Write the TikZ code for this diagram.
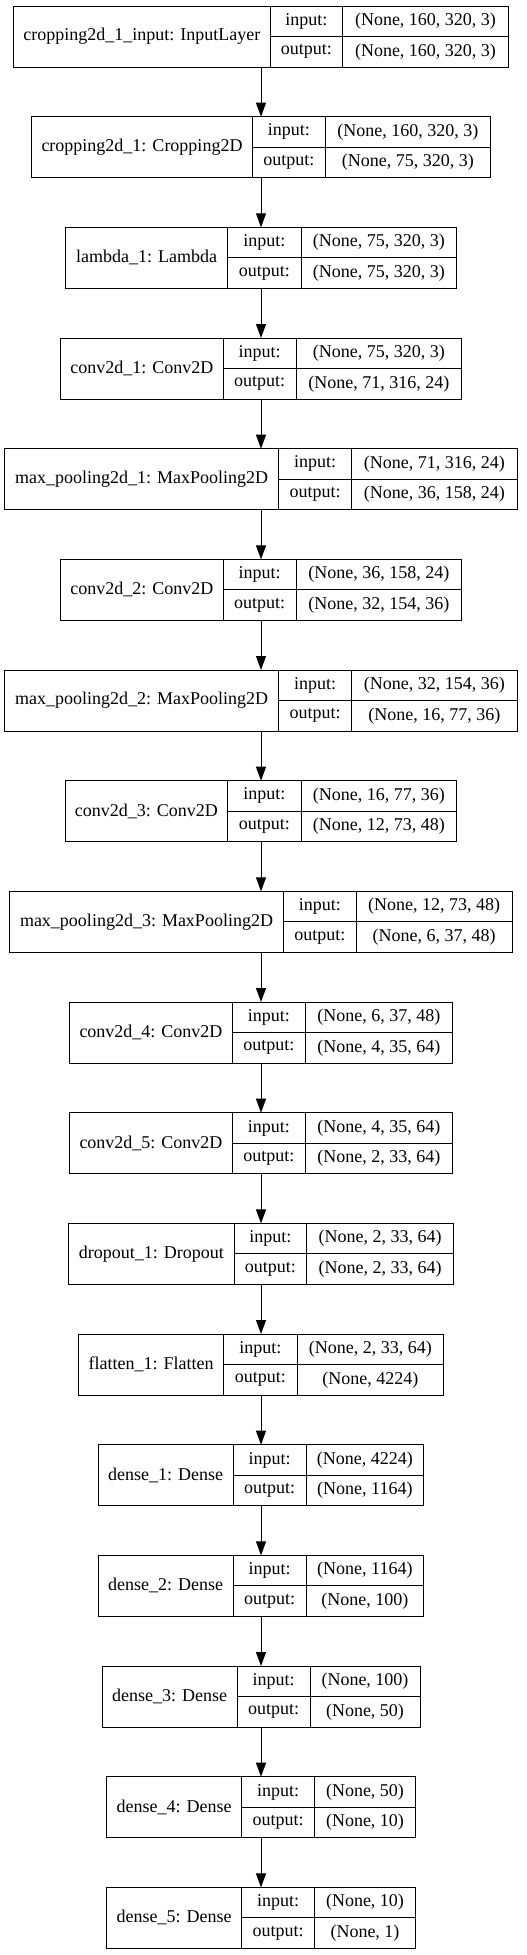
\documentclass[tikz,border=0pt]{standalone}
\usepackage{fontspec}
\setmainfont{Liberation Serif}
\usetikzlibrary{arrows.meta}
\tikzset{
  cell/.style={draw, line width=1pt, inner sep=0pt, outer sep=0pt, anchor=north west,
    font=\fontsize{18}{21}\selectfont},
  layerbox/.style={inner sep=0pt, outer sep=0pt, minimum height=61},
  flow/.style={line width=1pt, -{Triangle[length=14pt,width=10pt]}}
}

\begin{document}
\begin{tikzpicture}[x=1pt,y=1pt]
\useasboundingbox (0,0) rectangle (527,-1955);
% one row per layer: index / left / label column / shape column / right / name / input / output
\foreach \i/\L/\a/\b/\R/\nm/\si/\so in {
  0/13.7/270/342.7/508.3/{cropping2d\_1\_input: InputLayer}/{(None, 160, 320, 3)}/{(None, 160, 320, 3)},
  1/31.3/252.7/325/490.7/{cropping2d\_1: Cropping2D}/{(None, 160, 320, 3)}/{(None, 75, 320, 3)},
  2/65.3/227.7/301/456.7/{lambda\_1: Lambda}/{(None, 75, 320, 3)}/{(None, 75, 320, 3)},
  3/60.7/223/296/461.7/{conv2d\_1: Conv2D}/{(None, 75, 320, 3)}/{(None, 71, 316, 24)},
  4/4.7/278.7/351.7/517/{max\_pooling2d\_1: MaxPooling2D}/{(None, 71, 316, 24)}/{(None, 36, 158, 24)},
  5/60.7/223/296/461.7/{conv2d\_2: Conv2D}/{(None, 36, 158, 24)}/{(None, 32, 154, 36)},
  6/4.7/278.7/351.7/517/{max\_pooling2d\_2: MaxPooling2D}/{(None, 32, 154, 36)}/{(None, 16, 77, 36)},
  7/65/227.7/301/456.7/{conv2d\_3: Conv2D}/{(None, 16, 77, 36)}/{(None, 12, 73, 48)},
  8/9.7/283.3/356.3/512/{max\_pooling2d\_3: MaxPooling2D}/{(None, 12, 73, 48)}/{(None, 6, 37, 48)},
  9/69.7/232.3/305.3/452.3/{conv2d\_4: Conv2D}/{(None, 6, 37, 48)}/{(None, 4, 35, 64)},
  10/69.7/232.3/305.3/452.3/{conv2d\_5: Conv2D}/{(None, 4, 35, 64)}/{(None, 2, 33, 64)},
  11/68.7/234/306.7/453.7/{dropout\_1: Dropout}/{(None, 2, 33, 64)}/{(None, 2, 33, 64)},
  12/78.3/223.7/297/443.7/{flatten\_1: Flatten}/{(None, 2, 33, 64)}/{(None, 4224)},
  13/98.3/233/306/423.7/{dense\_1: Dense}/{(None, 4224)}/{(None, 1164)},
  14/98.3/233/306/423.7/{dense\_2: Dense}/{(None, 1164)}/{(None, 100)},
  15/102/237.3/310/420/{dense\_3: Dense}/{(None, 100)}/{(None, 50)},
  16/106.7/241.7/314.7/415.3/{dense\_4: Dense}/{(None, 50)}/{(None, 10)},
  17/106.7/241.7/314.7/415.3/{dense\_5: Dense}/{(None, 10)}/{(None, 1)}}{
  \pgfmathsetmacro\T{-6-110.67*\i}
  \pgfmathsetmacro\M{\T-30.5}
  \pgfmathsetmacro\wn{\a-\L}
  \pgfmathsetmacro\wl{\b-\a}
  \pgfmathsetmacro\wv{\R-\b}
  \pgfmathsetmacro\wb{\R-\L}
  \node[layerbox, minimum width=\wb] (b\i) at (261,\M) {};
  \node[cell, minimum width=\wn, minimum height=61] (n\i) at (\L,\T) {\nm};
  \node[cell, minimum width=\wl, minimum height=30.5] (in\i) at (\a,\T) {input:};
  \node[cell, minimum width=\wl, minimum height=30.5] (out\i) at (\a,\M) {output:};
  \node[cell, minimum width=\wv, minimum height=30.5] (inv\i) at (\b,\T) {\si};
  \node[cell, minimum width=\wv, minimum height=30.5] (outv\i) at (\b,\M) {\so};
}
% connectors
\foreach \i [evaluate=\i as \j using int(\i+1)] in {0,...,16}
  \draw[flow] (b\i.south) -- (b\j.north);
\end{tikzpicture}
\end{document}
